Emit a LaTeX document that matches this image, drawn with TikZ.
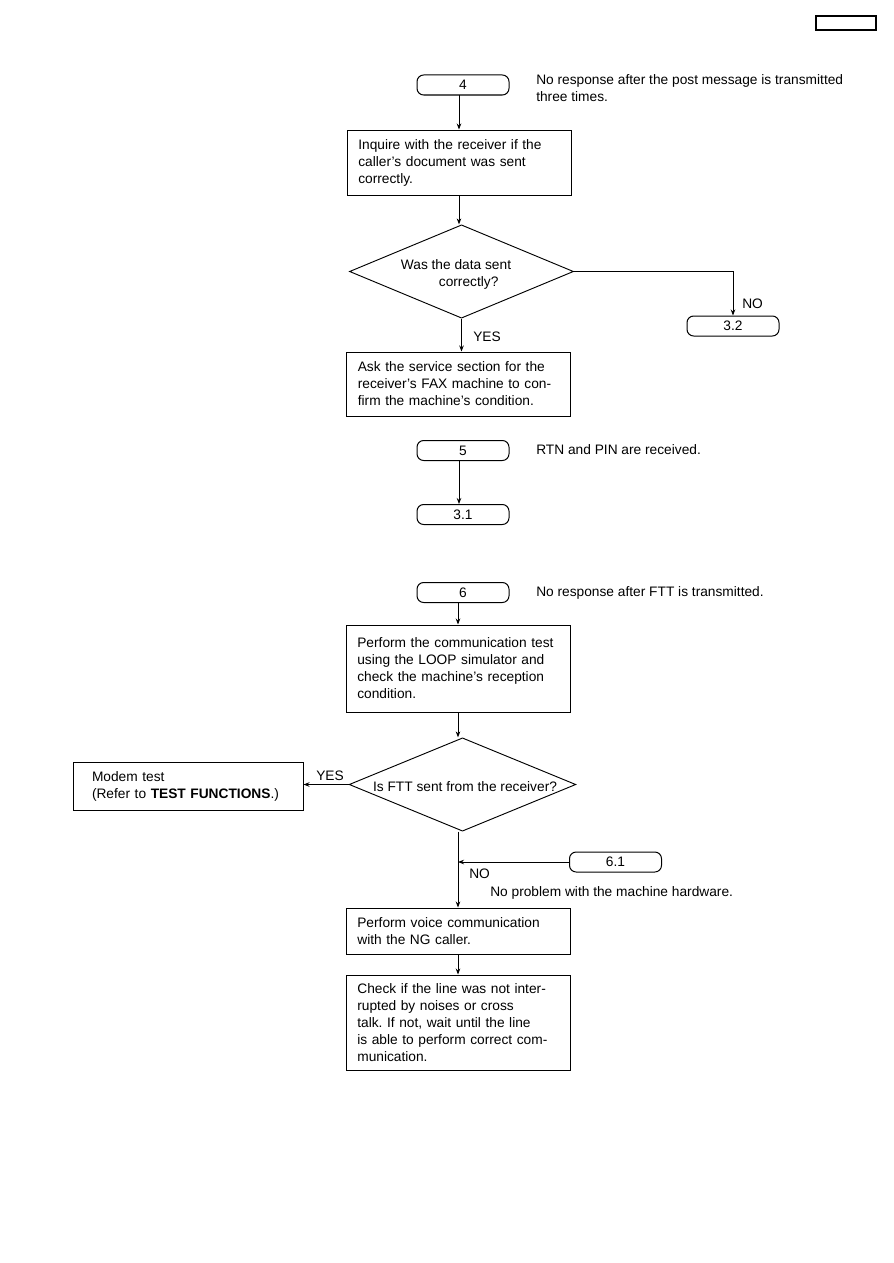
\documentclass[tikz,border=0pt]{standalone}
\usepackage{fontspec}
\setmainfont{Liberation Sans}
\usetikzlibrary{shapes.geometric,arrows.meta}
\frenchspacing

\begin{document}
\begin{tikzpicture}[x=0.75pt,y=-0.75pt,
  font=\fontsize{10.3}{12.75}\selectfont,
  flag/.style={draw, line width=0.75pt, rounded corners=5pt, minimum width=69pt, minimum height=15pt, inner sep=0pt},
  stepbox/.style={draw, line width=0.75pt, align=left, text width=151pt, inner xsep=8.5pt, inner ysep=0pt},
  query/.style={draw, diamond, line width=0.7pt, minimum width=168pt, minimum height=70pt, inner sep=0pt},
  link/.style={line width=0.6pt, -{Stealth[length=4.5pt,width=3.4pt]}},
  note/.style={anchor=base west, align=left, inner sep=0pt}]
  \useasboundingbox (0,0) rectangle (893,1263);
  % page mark
  \node[draw, line width=0.8pt, minimum width=45pt, minimum height=10.5pt, inner sep=0pt] (mark) at (846,23) {};
  % block 4
  \node[flag] (n4) at (463,85) {4};
  \node[note] (t4) at (536,101.5) {No response after the post message is transmitted\\three times.};
  \node[stepbox, minimum height=48.75pt] (inq) at (459,162.5)
    {Inquire with the receiver if the\\caller's document was sent\\correctly.};
  \node[query] (q1) at (461.5,271.5) {};
  \node[align=left, inner sep=0pt] (q1txt) at (456,274) {Was the data sent\\\hspace*{28.5pt}correctly?};
  \node[flag] (n32) at (733,326) {3.2};
  \node[stepbox, minimum height=48pt] (ask) at (458.5,384)
    {Ask the service section for the\\receiver's FAX machine to con-\\firm the machine's condition.};
  \draw[link] (n4.south -| inq.north) -- (inq.north);
  \draw[link] (inq.south) -- (inq.south |- q1.north);
  \draw[link] (q1.east) -| (n32.north);
  \draw[link] (q1.south) -- (q1.south |- ask.north);
  \node[note] (no1) at (742,308.5) {NO};
  \node[note] (yes1) at (473,341.5) {YES};
  % block 5
  \node[flag] (n5) at (463,450.5) {5};
  \node[note] (t5) at (536,454.5) {RTN and PIN are received.};
  \node[flag] (n31) at (463,514.5) {3.1};
  \draw[link] (n5.south -| inq.north) -- (n31.north -| inq.north);
  % block 6
  \node[flag] (n6) at (463,592.5) {6};
  \node[note] (t6) at (536,596.5) {No response after FTT is transmitted.};
  \node[stepbox, minimum height=65.25pt] (perf) at (458,668.5)
    {Perform the communication test\\using the LOOP simulator and\\check the machine's reception\\condition.};
  \node[query, minimum width=170pt] (q2) at (462.5,784.5) {};
  \node[inner sep=0pt] (q2txt) at (465,787) {Is FTT sent from the receiver?};
  \node[draw, line width=0.75pt, align=left, text width=144pt, inner xsep=14.25pt, inner ysep=0pt,
    minimum height=36pt] (modem) at (188,786)
    {Modem test\\(Refer to \textbf{TEST FUNCTIONS}.)};
  \node[flag] (n61) at (615.5,862) {6.1};
  \node[stepbox, minimum height=34.5pt] (voice) at (458,931)
    {Perform voice communication\\with the NG caller.};
  \node[stepbox, minimum height=71.25pt] (check) at (458,1022.5)
    {Check if the line was not inter-\\rupted by noises or cross\\talk. If not, wait until the line\\is able to perform correct com-\\munication.};
  \coordinate (join) at (voice.north |- n61.west);
  \draw[link] (n6.south -| perf.north) -- (perf.north);
  \draw[link] (perf.south) -- (perf.south |- q2.north);
  \draw[link] (q2.west) -- (q2.west -| modem.east);
  \draw[link] (q2.south -| voice.north) -- (voice.north);
  \draw[link] (n61.west) -- (join);
  \draw[link] (voice.south) -- (check.north);
  \node[note] (yes2) at (316,780.5) {YES};
  \node[note] (no2) at (469,878.5) {NO};
  \node[note] (t61) at (490,896.5) {No problem with the machine hardware.};
\end{tikzpicture}
\end{document}
